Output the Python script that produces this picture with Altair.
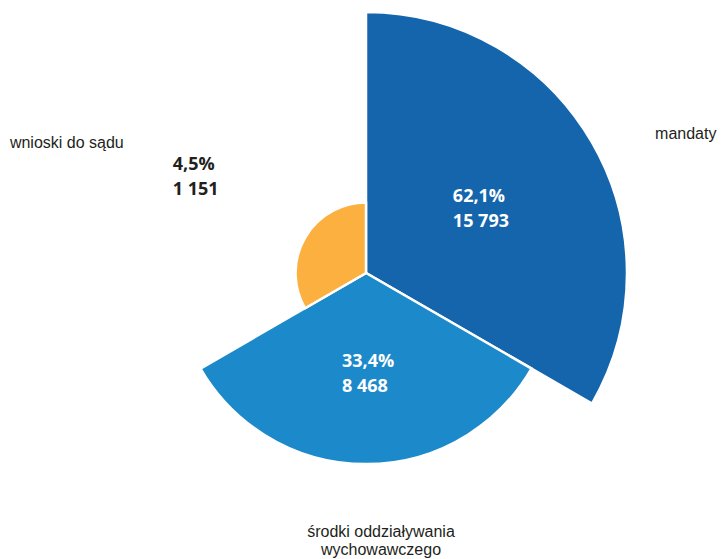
import altair as alt
import pandas as pd

categories = ["mandaty", "środki oddziaływania\nwychowawczego", "wnioski do sądu"]
percents = [62.1, 33.4, 4.5]
counts = [15793, 8468, 1151]
colors = ["#1565AD", "#1C8ACA", "#FBB040"]


def fmt_int(n):
    return f"{n:,}".replace(",", " ")


def fmt_pct(p):
    return f"{p:.1f}".replace(".", ",") + "%"


df = pd.DataFrame({
    "kategoria": categories,
    "procent": percents,
    "liczba": counts,
    "idx": list(range(len(categories))),
    "sektor": [1] * len(categories),
})
df["wartosc"] = [fmt_pct(p) + "\n" + fmt_int(n) for p, n in zip(percents, counts)]

CX, CY = 358, 265
theta_scale = alt.Scale(domain=[0, len(categories)])

base = (
    alt.Chart(df)
    .transform_window(t1="sum(sektor)", sort=[alt.SortField("idx")])
    .transform_calculate(t0="datum.t1 - datum.sektor", mid="datum.t1 - datum.sektor / 2")
)

arcs = base.mark_arc(stroke="white", strokeWidth=2.5).encode(
    theta=alt.Theta("t0:Q", scale=theta_scale),
    theta2="t1:Q",
    radius=alt.Radius("liczba:Q", scale=alt.Scale(type="sqrt", zero=True, range=[0, 261])),
    color=alt.Color("kategoria:N", scale=alt.Scale(domain=categories, range=colors), legend=None),
    x=alt.value(CX),
    y=alt.value(CY),
)


def label(i, field, radius, dx, dy, align, font, size, weight, color, line_height):
    return (
        base.transform_filter(f"datum.idx == {i}")
        .mark_text(
            radius=radius, dx=dx, dy=dy, align=align, baseline="middle",
            font=font, fontSize=size, fontWeight=weight, color=color,
            lineBreak="\n", lineHeight=line_height,
        )
        .encode(
            theta=alt.Theta("mid:Q", scale=theta_scale),
            text=alt.Text(f"{field}:N"),
            x=alt.value(CX),
            y=alt.value(CY),
        )
    )


VAL_FONT = "Open Sans"
CAT_FONT = "Liberation Sans"

layers = [
    arcs,
    label(0, "wartosc", 128, -24, -12, "left", VAL_FONT, 18, "bold", "white", 25),
    label(1, "wartosc", 101, -24, -12, "left", VAL_FONT, 18, "bold", "white", 25),
    label(2, "wartosc", 192, -27, -12, "left", VAL_FONT, 18, "bold", "#231F20", 25),
    label(0, "kategoria", 278, 79, 0, "center", CAT_FONT, 16, "normal", "#231F20", 18),
    label(1, "kategoria", 268, 15, -9, "center", CAT_FONT, 16, "normal", "#231F20", 18),
    label(2, "kategoria", 260, -74, 0, "center", CAT_FONT, 16, "normal", "#231F20", 18),
]

chart = alt.layer(*layers).properties(
    width=710,
    height=551,
    padding=0,
    autosize=alt.AutoSizeParams(type="none"),
    background="white",
).configure_view(stroke=None)

chart.save("out.html", embed_options={"renderer": "svg", "actions": False})
